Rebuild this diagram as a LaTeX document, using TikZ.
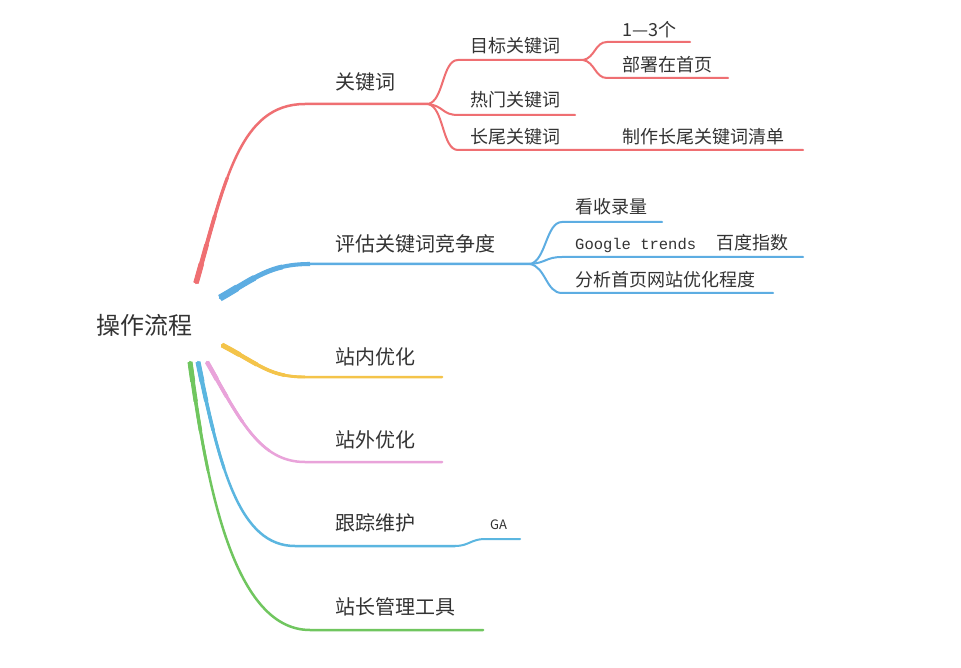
\documentclass[tikz,border=0pt]{standalone}
\usepackage{fontspec}
\setmainfont{Noto Sans CJK SC}
\newfontfamily\monof{Liberation Mono}
\usetikzlibrary{positioning}
\usepackage{xcolor}
\definecolor{txt}{HTML}{333333}
\definecolor{redline}{HTML}{EF6F72}
\definecolor{blueline}{HTML}{5DADE2}
\definecolor{yellowline}{HTML}{F4C44A}
\definecolor{pinkline}{HTML}{E9A3DA}
\definecolor{tealline}{HTML}{5BB6E0}
\definecolor{greenline}{HTML}{70C65F}
% main branch: colour, start width, from, control 1, control 2, bend, end
\newcommand{\mainbranch}[7]{%
  \draw[#1, line width=2.5pt, line cap=round] (#3) .. controls (#4) and (#5) .. (#6) -- (#7);
  \foreach \f/\l in {1/20,0.85/40,0.7/70,0.58/110}
    \draw[#1, line width=\f*#2, dash pattern=on \l pt off 2000pt] (#3) .. controls (#4) and (#5) .. (#6);
}

\begin{document}
\begin{tikzpicture}[x=1pt, y=-1pt,
  lvl1/.style={anchor=west, inner sep=0pt, text=txt, font=\fontsize{20}{24}\selectfont},
  lvl2/.style={anchor=west, inner sep=0pt, text=txt, font=\fontsize{18}{22}\selectfont},
  sub/.style={line width=2pt, line cap=round}
]
  \useasboundingbox[fill=white] (0,0) rectangle (961,668);
  % Root
  \node[inner sep=0pt, text=txt, font=\fontsize{24}{28}\selectfont] (root) at (144,325) {操作流程};
  % Level 1
  \node[lvl1] (kw) at (335,82) {关键词};
  \node[lvl1] (eval) at (335,244) {评估关键词竞争度};
  \node[lvl1] (onpage) at (335,357) {站内优化};
  \node[lvl1] (offpage) at (335,440) {站外优化};
  \node[lvl1] (track) at (335,523) {跟踪维护};
  \node[lvl1] (tools) at (335,607) {站长管理工具};
  % Level 2: keywords
  \node[lvl2] (target) at (470,46) {目标关键词};
  \node[lvl2] (hot) at (470,100) {热门关键词};
  \node[lvl2] (long) at (470,137) {长尾关键词};
  \node[lvl2] (count) at (622,30) {1—3个};
  \node[lvl2] (deploy) at (622,65) {部署在首页};
  \node[lvl2] (list) at (622,137) {制作长尾关键词清单};
  % Level 2: competition
  \node[lvl2] (index) at (575,207) {看收录量};
  \node[lvl2] (trends) at (575,244) {{\monof\fontsize{15.5}{18}\selectfont Google trends}\hspace{20pt}百度指数};
  \node[lvl2] (analyse) at (575,280) {分析首页网站优化程度};
  % Level 2: tracking
  \node[anchor=west, inner sep=0pt, text=txt, font=\fontsize{13}{16}\selectfont] (ga) at (490,525) {GA};
  % Branch points
  \coordinate (kw-s) at (196,283); \coordinate (kw-b) at (305,104); \coordinate (kw-j) at (428,104);
  \coordinate (tgt-b) at (458,60); \coordinate (tgt-j) at (583,60);
  \coordinate (cnt-b) at (607,42); \coordinate (cnt-e) at (690,42);
  \coordinate (dep-b) at (607,78); \coordinate (dep-e) at (728,78);
  \coordinate (hot-b) at (458,115); \coordinate (hot-e) at (575,115);
  \coordinate (long-b) at (458,150); \coordinate (long-e) at (803,150);
  \coordinate (ev-s) at (220,298); \coordinate (ev-b) at (310,264); \coordinate (ev-j) at (530,264);
  \coordinate (idx-b) at (562,222); \coordinate (idx-e) at (662,222);
  \coordinate (gt-b) at (562,257); \coordinate (gt-e) at (803,257);
  \coordinate (an-b) at (562,293); \coordinate (an-e) at (773,293);
  \coordinate (on-s) at (222,345); \coordinate (on-b) at (305,377); \coordinate (on-e) at (442,377);
  \coordinate (off-s) at (207,362); \coordinate (off-b) at (305,462); \coordinate (off-e) at (442,462);
  \coordinate (tr-s) at (198,362); \coordinate (tr-b) at (295,546); \coordinate (tr-j) at (455,546);
  \coordinate (ga-b) at (485,539); \coordinate (ga-e) at (520,539);
  \coordinate (tl-s) at (190,362); \coordinate (tl-b) at (310,630); \coordinate (tl-e) at (483,630);
  % Main branches
  \mainbranch{greenline}{5pt}{tl-s}{205,470}{230,630}{tl-b}{tl-e}
  \mainbranch{tealline}{5pt}{tr-s}{220,470}{240,546}{tr-b}{tr-j}
  \mainbranch{pinkline}{4.5pt}{off-s}{240,420}{260,462}{off-b}{off-e}
  \mainbranch{yellowline}{5pt}{on-s}{260,365}{270,377}{on-b}{on-e}
  \mainbranch{blueline}{7pt}{ev-s}{255,278}{270,264}{ev-b}{ev-j}
  \mainbranch{redline}{5.5pt}{kw-s}{225,180}{240,104}{kw-b}{kw-j}
  % Sub branches
  \draw[sub, redline] (kw-j) .. controls +(16,-3) and +(-16,0) .. (tgt-b) -- (tgt-j);
  \draw[sub, redline] (kw-j) .. controls +(16,2) and +(-16,0) .. (hot-b) -- (hot-e);
  \draw[sub, redline] (kw-j) .. controls +(16,3) and +(-16,0) .. (long-b) -- (long-e);
  \draw[sub, redline] (tgt-j) .. controls +(12,-2) and +(-12,0) .. (cnt-b) -- (cnt-e);
  \draw[sub, redline] (tgt-j) .. controls +(12,2) and +(-12,0) .. (dep-b) -- (dep-e);
  \draw[sub, blueline] (ev-j) .. controls +(16,-3) and +(-16,0) .. (idx-b) -- (idx-e);
  \draw[sub, blueline] (ev-j) .. controls +(16,-1) and +(-16,0) .. (gt-b) -- (gt-e);
  \draw[sub, blueline] (ev-j) .. controls +(16,3) and +(-16,0) .. (an-b) -- (an-e);
  \draw[sub, tealline] (tr-j) .. controls +(14,0) and +(-14,0) .. (ga-b) -- (ga-e);
\end{tikzpicture}
\end{document}
